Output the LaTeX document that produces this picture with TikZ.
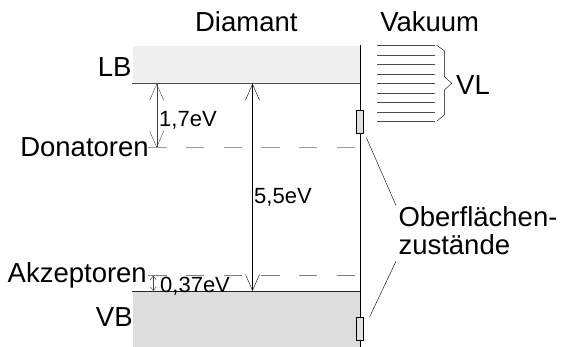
\documentclass[tikz,border=0pt]{standalone}
\usepackage{fontspec}
\setmainfont{Liberation Sans}
\usetikzlibrary{arrows.meta}

\definecolor{lbgray}{HTML}{EFEFEF}
\definecolor{vbgray}{HTML}{DDDDDD}
\definecolor{donmag}{HTML}{FF55FF}
\definecolor{akzblue}{HTML}{7070FF}

\begin{document}
\begin{tikzpicture}[x=1pt,y=-1pt,
		lbl/.style={inner sep=0pt,font=\fontsize{27.5}{27.7}\selectfont},
		val/.style={inner sep=0pt,font=\fontsize{22}{24}\selectfont},
		band/.style={minimum width=227pt,inner sep=0pt,anchor=north west},
		implevel/.style={line width=1.3pt,dash pattern=on 18.3pt off 19.4pt},
		gap/.style={{Straight Barb[length=16pt,width=14pt]}-{Straight Barb[length=16pt,width=14pt]}},
		smallgap/.style={{Straight Barb[length=4pt,width=6pt]}-{Straight Barb[length=4pt,width=6pt]}},
		sstate/.style={draw,fill=black!12,minimum width=7.6pt,minimum height=23pt,inner sep=0pt,anchor=north west}]
		
		\useasboundingbox (0,0) rectangle (562,347);
		
		% Baender
		\node (lb) at (132.3,45.5) [band,minimum height=37.8pt,fill=lbgray] {};
		\node (vb) at (132.3,291) [band,minimum height=56pt,fill=vbgray] {};
		\draw[line width=1.2pt,black!70] (lb.south west) -- (lb.south east);
		\draw[black!85] (vb.north west) -- (vb.north east);
		\draw (lb.north east) -- (vb.south east);
		
		% Stoerstellen
		\coordinate (don) at (148.3,147.7);
		\coordinate (donE) at (355,147.7);
		\coordinate (akz) at (148.3,275.5);
		\coordinate (akzE) at (355,275.5);
		\draw[donmag,implevel] (don) -- (donE);
		\draw[akzblue,implevel] (akz) -- (akzE);
		
		\coordinate (g1) at (156.7,147.7);
		\coordinate (g2) at (252.5,291);
		\coordinate (g3) at (153.3,275.5);
		\draw[gap,black!75] (g1) -- (g1 |- lb.south);
		\draw[gap] (g2) -- (g2 |- lb.south);
		\draw[smallgap,black!75] (g3) -- (g3 |- vb.north);
		
		\node (e17) at (159,126.7) [val,anchor=base west] {1,7eV};
		\node (e55) at (254,204) [val,anchor=base west] {5,5eV};
		\node (e037) at (160,292) [val,anchor=base west] {0,37eV};
		
		\node (dia) at (246.3,31.7) [lbl,anchor=base] {Diamant};
		\node (vak) at (429.7,31.7) [lbl,anchor=base] {Vakuum};
		\node (lbt) at (131.7,76.7) [lbl,anchor=base east] {LB};
		\node (vbt) at (132.8,326.7) [lbl,anchor=base east] {VB};
		\node (dont) at (148.9,156.7) [lbl,anchor=base east] {Donatoren};
		\node (akzt) at (147,282.7) [lbl,anchor=base east] {Akzeptoren};
		
		% Vakuumniveaus
		\foreach \i in {0,...,8} {
			\draw[black!70] (377.3,{45.3+9.5*\i}) -- (435,{45.3+9.5*\i});
		}
		\draw (436.7,45.3) -- (444.3,50.7) -- (444.3,76.7) -- (451.7,83.3) -- (444.3,90) -- (444.3,115) -- (436.7,121.3);
		\node (vl) at (456,94.3) [lbl,anchor=base west] {VL};
		
		% Oberflaechenzustaende
		\node (ss1) at (355.7,110) [sstate] {};
		\node (ss2) at (355.7,317.3) [sstate] {};
		\node (oz) at (398.3,254.3) [lbl,anchor=base west,align=left] {Oberflächen-\\zustände};
		\draw ([shift={(2.7,4.3)}]ss1.south east) -- ([shift={(-2.3,-1)}]oz.north west);
		\draw ([shift={(5.7,0)}]ss2.north east) -- ([shift={(-2.3,6.5)}]oz.south west);
		
	\end{tikzpicture}
\end{document}
